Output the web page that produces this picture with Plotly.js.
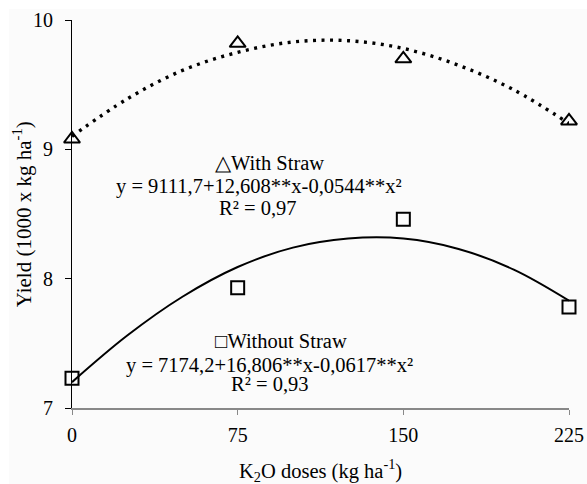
<!DOCTYPE html>
<html>
<head>
<meta charset="utf-8">
<script src="https://cdn.plot.ly/plotly-3.0.1.min.js"></script>
<style>
  html, body { margin: 0; padding: 0; background: #ffffff; }
  #chart { position: absolute; left: 9px; top: 9px; width: 578px; height: 475px; }
</style>
</head>
<body>
<div id="chart"></div>
<script>
// K2O doses (kg ha-1)
const doses = [0, 75, 150, 225];
// Observed yields (1000 x kg ha-1)
const withStraw = [9.08, 9.82, 9.70, 9.22];
const withoutStraw = [7.23, 7.93, 8.46, 7.78];
// Fitted curves
const curveX = [0, 25, 50, 75, 100, 125, 150, 175, 200, 225];
const withStrawCurve = [9.10, 9.39, 9.61, 9.75, 9.83, 9.84, 9.78, 9.65, 9.46, 9.20];
const withoutStrawCurve = [7.20, 7.56, 7.86, 8.09, 8.24, 8.31, 8.31, 8.23, 8.07, 7.83];
// Tick labels
const xTicks = [0, 75, 150, 225];
const yTicks = [7, 8, 9, 10];
// Text
const withLabel = "\u25B3With Straw";
const withEq = "y = 9111,7+12,608**x-0,0544**x\u00B2";
const withR2 = "R\u00B2 = 0,97";
const withoutLabel = "\u25A1Without Straw";
const withoutEq = "y = 7174,2+16,806**x-0,0617**x\u00B2";
const withoutR2 = "R\u00B2 = 0,93";
const xTitle = "K<sub>2</sub>O doses (kg ha<sup>-1</sup>)";
const yTitle = "Yield (1000 x kg ha<sup>-1</sup>)";

const FONT = "Liberation Serif";

const traces = [
  {
    x: curveX, y: withStrawCurve, mode: 'lines', type: 'scatter',
    line: { color: '#000', width: 3.4, dash: '3px,5.5px', shape: 'spline' },
    hoverinfo: 'skip', cliponaxis: false
  },
  {
    x: curveX, y: withoutStrawCurve, mode: 'lines', type: 'scatter',
    line: { color: '#000', width: 2, shape: 'spline' },
    hoverinfo: 'skip', cliponaxis: false
  },
  {
    x: doses, y: withStraw, mode: 'markers', type: 'scatter',
    marker: { symbol: 'triangle-up-open', size: 14, color: '#000', line: { color: '#000', width: 2 } },
    cliponaxis: false
  },
  {
    x: doses, y: withoutStraw, mode: 'markers', type: 'scatter',
    marker: { symbol: 'square-open', size: 13, color: '#000', line: { color: '#000', width: 2 } },
    cliponaxis: false
  }
];

function f(sz) { return { family: FONT, size: sz, color: '#000' }; }
const layout = {
  width: 578, height: 475,
  paper_bgcolor: '#fbfbfb', plot_bgcolor: '#fbfbfb',
  showlegend: false,
  margin: { l: 63, r: 18, t: 11, b: 76 },
  xaxis: {
    range: [0, 225], tickvals: xTicks, ticktext: xTicks.map(String),
    showgrid: false, zeroline: false,
    showline: true, linecolor: '#888888', linewidth: 1.5,
    ticks: 'outside', ticklen: 5, tickcolor: '#888888', tickwidth: 1,
    ticklabelstandoff: 3,
    tickfont: f(20)
  },
  yaxis: {
    range: [7, 10], tickvals: yTicks, ticktext: yTicks.map(String),
    showgrid: false, zeroline: false,
    showline: true, linecolor: '#000', linewidth: 1,
    ticks: 'outside', ticklen: 6, tickcolor: '#000', tickwidth: 1,
    ticklabelstandoff: 8,
    tickfont: f(20)
  },
  annotations: [
    { x: 89.6, y: 8.894, xref: 'x', yref: 'y', text: withLabel, showarrow: false, font: f(20.5) },
    { x: 84.7, y: 8.716, xref: 'x', yref: 'y', text: withEq, showarrow: false, font: f(20.5) },
    { x: 84.2, y: 8.546, xref: 'x', yref: 'y', text: withR2, showarrow: false, font: f(20.5) },
    { x: 94.5, y: 7.518, xref: 'x', yref: 'y', text: withoutLabel, showarrow: false, font: f(20.5) },
    { x: 89.2, y: 7.33, xref: 'x', yref: 'y', text: withoutEq, showarrow: false, font: f(20.5) },
    { x: 89.6, y: 7.185, xref: 'x', yref: 'y', text: withoutR2, showarrow: false, font: f(20.5) },
    { x: 0.5, y: -0.16, xref: 'paper', yref: 'paper', text: xTitle, showarrow: false,
      xanchor: 'center', yanchor: 'middle', font: f(20.5) },
    { x: -0.1, y: 0.5, xref: 'paper', yref: 'paper', text: yTitle, showarrow: false, textangle: -90,
      xanchor: 'center', yanchor: 'middle', font: f(21) }
  ]
};

Plotly.newPlot('chart', traces, layout, { staticPlot: true });
</script>
</body>
</html>
